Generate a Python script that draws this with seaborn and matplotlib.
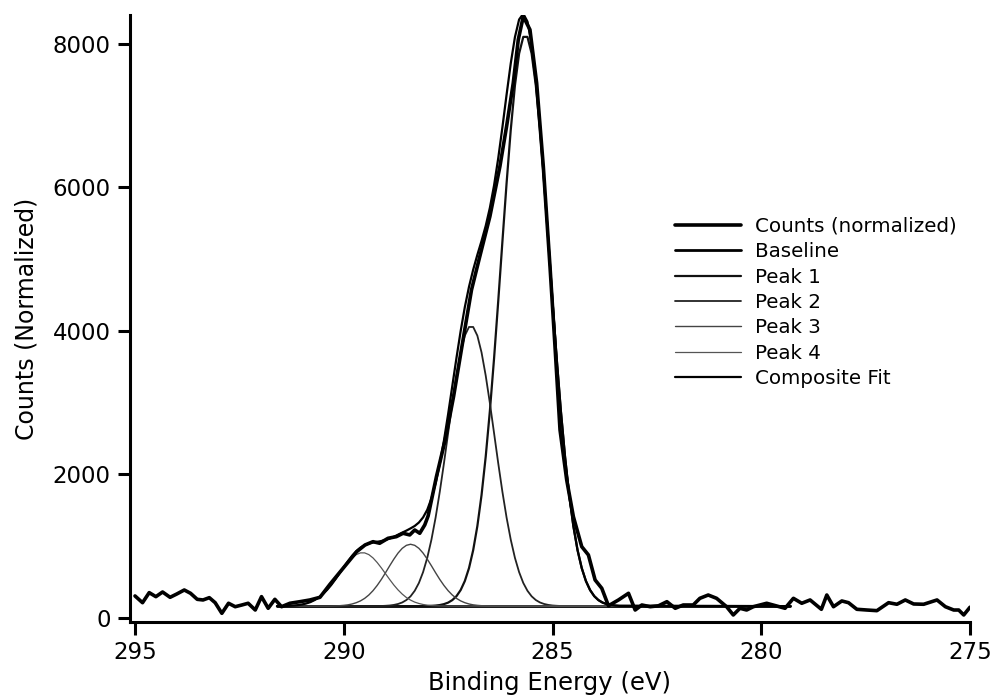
import matplotlib
matplotlib.use("Agg")
import matplotlib.pyplot as plt
import seaborn as sns

# measured spectrum (binding energy in eV, normalized counts)
counts_energy = [
    295.00, 294.82, 294.66, 294.50, 294.34, 294.16, 294.00, 293.82, 293.67, 293.51,
    293.37, 293.22, 293.08, 292.92, 292.76, 292.60, 292.44, 292.29, 292.12, 291.97,
    291.81, 291.65, 291.49, 291.29, 291.05, 290.81, 290.57, 290.33, 290.09, 289.85,
    289.69, 289.49, 289.30, 289.14, 288.94, 288.74, 288.58, 288.42, 288.30, 288.18,
    288.06, 287.98, 287.78, 287.57, 287.37, 287.17, 286.94, 286.74, 286.50, 286.26,
    286.10, 285.94, 285.82, 285.70, 285.54, 285.38, 285.22, 285.06, 284.94, 284.82,
    284.66, 284.50, 284.30, 284.14, 283.98, 283.82, 283.66, 283.42, 283.18, 283.02,
    282.86, 282.66, 282.46, 282.26, 282.06, 281.87, 281.63, 281.47, 281.27, 281.07,
    280.83, 280.67, 280.51, 280.35, 280.19, 279.87, 279.63, 279.43, 279.23, 279.03,
    278.83, 278.56, 278.43, 278.27, 278.07, 277.91, 277.71, 277.47, 277.23, 276.95,
    276.75, 276.55, 276.35, 276.11, 275.79, 275.59, 275.39, 275.27, 275.15, 275.00,
]
counts = [
    307, 213, 353, 297, 362, 288, 334, 390, 344, 260,
    251, 283, 213, 65, 205, 157, 181, 205, 111, 297,
    135, 260, 157, 205, 227, 251, 288, 470, 640, 810,
    924, 1017, 1063, 1041, 1110, 1133, 1180, 1157, 1226, 1180,
    1296, 1420, 1969, 2481, 3084, 3781, 4571, 5040, 5593, 6290,
    6848, 7452, 8056, 8380, 8195, 7452, 6290, 4896, 3781, 2620,
    1923, 1412, 994, 878, 530, 414, 170, 251, 344, 111,
    181, 157, 170, 227, 135, 181, 181, 274, 320, 274,
    157, 42, 135, 111, 157, 205, 167, 135, 274, 205,
    251, 121, 320, 157, 237, 213, 121, 111, 102, 213,
    191, 251, 195, 191, 251, 157, 111, 111, 42, 150,
]

baseline_energy = [291.6, 279.3]
baseline = [165, 165]

# fit curves share one energy grid
fit_energy = [
    291.6, 291.5, 291.4, 291.3, 291.2, 291.1, 291.0, 290.9, 290.8, 290.7,
    290.6, 290.5, 290.4, 290.3, 290.2, 290.1, 290.0, 289.9, 289.8, 289.7,
    289.6, 289.5, 289.4, 289.3, 289.2, 289.1, 289.0, 288.9, 288.8, 288.7,
    288.6, 288.5, 288.4, 288.3, 288.2, 288.1, 288.0, 287.9, 287.8, 287.7,
    287.6, 287.5, 287.4, 287.3, 287.2, 287.1, 287.0, 286.9, 286.8, 286.7,
    286.6, 286.5, 286.4, 286.3, 286.2, 286.1, 286.0, 285.9, 285.8, 285.7,
    285.6, 285.5, 285.4, 285.3, 285.2, 285.1, 285.0, 284.9, 284.8, 284.7,
    284.6, 284.5, 284.4, 284.3, 284.2, 284.1, 284.0, 283.9, 283.8, 283.7,
    283.6, 283.5, 283.4, 279.3,
]
peak1 = [
    165, 165, 165, 165, 165, 165, 165, 165, 165, 165,
    165, 165, 165, 165, 165, 165, 165, 165, 165, 165,
    165, 165, 165, 165, 165, 165, 165, 165, 165, 165,
    165, 165, 165, 165, 165, 165, 165, 169, 173, 180,
    193, 214, 249, 304, 389, 515, 695, 945, 1280, 1711,
    2247, 2885, 3615, 4413, 5243, 6056, 6800, 7419, 7863, 8095,
    8095, 7863, 7419, 6800, 6056, 5243, 4413, 3615, 2885, 2247,
    1711, 1280, 945, 695, 515, 389, 304, 249, 214, 193,
    180, 173, 169, 165,
]
peak2 = [
    165, 165, 165, 165, 165, 165, 165, 165, 165, 165,
    165, 165, 165, 165, 165, 165, 165, 165, 165, 165,
    165, 165, 165, 165, 165, 167, 170, 174, 182, 195,
    216, 250, 302, 379, 488, 639, 838, 1091, 1399, 1758,
    2156, 2576, 2993, 3377, 3700, 3933, 4054, 4054, 3933, 3700,
    3377, 2993, 2576, 2156, 1758, 1399, 1091, 838, 639, 488,
    379, 302, 250, 216, 195, 182, 174, 170, 167, 165,
    165, 165, 165, 165, 165, 165, 165, 165, 165, 165,
    165, 165, 165, 165,
]
peak3 = [
    165, 165, 165, 165, 165, 165, 165, 165, 165, 165,
    165, 165, 165, 166, 168, 171, 176, 183, 195, 213,
    238, 273, 320, 380, 453, 537, 630, 727, 820, 904,
    970, 1012, 1027, 1012, 970, 904, 820, 727, 630, 537,
    453, 380, 320, 273, 238, 213, 195, 183, 176, 171,
    168, 166, 165, 165, 165, 165, 165, 165, 165, 165,
    165, 165, 165, 165, 165, 165, 165, 165, 165, 165,
    165, 165, 165, 165, 165, 165, 165, 165, 165, 165,
    165, 165, 165, 165,
]
peak4 = [
    165, 166, 167, 170, 173, 179, 188, 202, 221, 249,
    285, 333, 391, 459, 536, 617, 698, 773, 837, 883,
    907, 907, 883, 837, 773, 698, 617, 536, 459, 391,
    333, 285, 249, 221, 202, 188, 179, 173, 170, 167,
    166, 165, 165, 165, 165, 165, 165, 165, 165, 165,
    165, 165, 165, 165, 165, 165, 165, 165, 165, 165,
    165, 165, 165, 165, 165, 165, 165, 165, 165, 165,
    165, 165, 165, 165, 165, 165, 165, 165, 165, 165,
    165, 165, 165, 165,
]
composite = [
    165, 166, 167, 170, 173, 179, 188, 202, 221, 249,
    285, 333, 391, 460, 539, 623, 709, 791, 867, 931,
    980, 1015, 1038, 1052, 1061, 1072, 1087, 1107, 1131, 1160,
    1189, 1217, 1248, 1282, 1330, 1401, 1507, 1665, 1877, 2147,
    2473, 2840, 3232, 3624, 3997, 4331, 4614, 4852, 5059, 5252,
    5462, 5714, 6026, 6404, 6836, 7290, 7726, 8092, 8337, 8418,
    8309, 8000, 7504, 6851, 6086, 5260, 4422, 3620, 2887, 2247,
    1711, 1280, 945, 695, 515, 389, 304, 249, 214, 193,
    180, 173, 169, 165,
]

sns.set_style("ticks")
plt.rcParams["font.family"] = ["DejaVu Sans"]
plt.rcParams["text.color"] = "black"
plt.rcParams["axes.labelcolor"] = "black"

fig = plt.figure(figsize=(9.94, 6.98), dpi=100)
ax = fig.add_axes([130 / 994, 1 - 622 / 698, 840 / 994, 607 / 698])

series = [
    ("Counts (normalized)", counts_energy, counts, "black", 2.6, 5),
    ("Baseline", baseline_energy, baseline, "black", 2.0, 3),
    ("Peak 1", fit_energy, peak1, "#111111", 1.6, 3),
    ("Peak 2", fit_energy, peak2, "#222222", 1.3, 3),
    ("Peak 3", fit_energy, peak3, "#444444", 1.0, 3),
    ("Peak 4", fit_energy, peak4, "#555555", 0.9, 3),
    ("Composite Fit", fit_energy, composite, "black", 1.6, 4),
]
for label, x, y, color, lw, z in series:
    sns.lineplot(x=x, y=y, ax=ax, label=label, color=color, linewidth=lw,
                 estimator=None, sort=False, zorder=z)

ax.set_xlim(295.12, 275)
ax.set_ylim(-56, 8400)
ax.set_xticks([295, 290, 285, 280, 275])
ax.set_yticks([0, 2000, 4000, 6000, 8000])
sns.despine(ax=ax)
for side in ["left", "bottom"]:
    ax.spines[side].set_linewidth(2.2)
    ax.spines[side].set_color("black")
ax.tick_params(direction="out", length=9, width=2.2, labelsize=16.5, pad=5,
               colors="black", labelcolor="black")

ax.set_xlabel("Binding Energy (eV)", fontsize=17.5, labelpad=5)
ax.set_ylabel("Counts (Normalized)", fontsize=17, labelpad=10)

leg = ax.legend(loc="upper left", bbox_to_anchor=(675 / 994, 1 - 217 / 698),
                bbox_transform=fig.transFigure, frameon=False, fontsize=14.3,
                handlelength=3.3, handletextpad=0.75, labelspacing=0.32,
                borderpad=0, borderaxespad=0)
for t in leg.get_texts():
    t.set_color("black")

fig.savefig("out.png", dpi=100)
